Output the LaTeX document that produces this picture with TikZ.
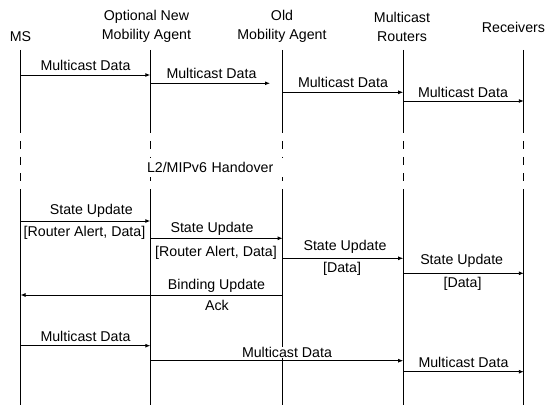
\documentclass[tikz,border=0pt]{standalone}
\usepackage{fontspec}
\setmainfont{Liberation Sans}
\usetikzlibrary{arrows.meta}
\begin{document}
\begin{tikzpicture}[x=1pt,y=-1pt,
  life/.style={line width=1.1pt},
  gapdash/.style={line width=1.1pt,dash pattern=on 8pt off 8pt,dash phase=8pt},
  msg/.style={line width=0.9pt,-{Latex[length=5pt,width=4pt]}},
  lbl/.style={font=\fontsize{14.2}{19}\selectfont,inner sep=0pt},
  hdr/.style={font=\fontsize{14.2}{19}\selectfont,inner sep=0pt,align=center},
  cover/.style={fill=white,inner sep=0pt}]
\useasboundingbox (0,0) rectangle (548,406);
% headers
\node[hdr] (hms)  at (20.5,36.5) {MS};
\node[hdr] (hnma) at (146.5,26.5) {Optional New\\Mobility Agent};
\node[hdr] (homa) at (282,26.5) {Old\\Mobility Agent};
\node[hdr] (hmr)  at (402,26.5) {Multicast\\Routers};
\node[hdr] (hrcv) at (513.5,27) {Receivers};
% lifeline coordinates
\coordinate (msT) at (20.5,50);   \coordinate (msA) at (20.5,133);
\coordinate (msB) at (20.5,189);  \coordinate (msE) at (20.5,405);
\coordinate (nmaT) at (150.3,50); \coordinate (nmaA) at (150.3,133);
\coordinate (nmaB) at (150.3,189);\coordinate (nmaE) at (150.3,405);
\coordinate (omaT) at (282.7,50); \coordinate (omaA) at (282.7,133);
\coordinate (omaB) at (282.7,189);\coordinate (omaE) at (282.7,405);
\coordinate (mrT) at (403.2,50);  \coordinate (mrA) at (403.2,133);
\coordinate (mrB) at (403.2,189); \coordinate (mrE) at (403.2,405);
\coordinate (rcvT) at (523.8,50); \coordinate (rcvA) at (523.8,133);
\coordinate (rcvB) at (523.8,189);\coordinate (rcvE) at (523.8,405);
\foreach \n in {ms,nma,oma,mr,rcv}{
  \draw[life] (\n T) -- (\n A);
  \draw[gapdash] (\n A) -- (\n B);
  \draw[life] (\n B) -- (\n E);
}
% handover label
\node[lbl,fill=white,text width=135pt,align=left,inner xsep=2pt,inner ysep=1pt,minimum height=18pt] (ho) at (214.5,167.5) {L2/MIPv6 Handover};
% rows
\coordinate (y1) at (0,75);
\coordinate (y2) at (0,83.3);
\coordinate (y3) at (0,92.3);
\coordinate (y4) at (0,101);
\coordinate (y5) at (0,221);
\coordinate (y6) at (0,238.3);
\coordinate (y7) at (0,258.3);
\coordinate (y8) at (0,273.3);
\coordinate (y9) at (0,295);
\coordinate (y10) at (0,345.7);
\coordinate (y11) at (0,360.7);
\coordinate (y12) at (0,371.7);
\coordinate (a2e) at (270,83.3);
% first phase
\draw[msg] (msT |- y1) -- (nmaT |- y1);
\node[lbl] (l1) at (85.5,65) {Multicast Data};
\draw[msg] (nmaT |- y2) -- (a2e);
\node[lbl] (l2) at (211.5,73) {Multicast Data};
\draw[msg] (omaT |- y3) -- (mrT |- y3);
\node[lbl] (l3) at (343,82.3) {Multicast Data};
\draw[msg] (mrT |- y4) -- (rcvT |- y4);
\node[lbl] (l4) at (463,92.3) {Multicast Data};
% state update phase
\draw[msg] (msT |- y5) -- (nmaT |- y5);
\node[lbl] (s1) at (91.3,211) {State Update};
\node[lbl] (r1) at (84.5,233) {[Router Alert, Data]};
\draw[msg] (nmaT |- y6) -- (omaT |- y6);
\node[lbl] (s2) at (212,229.3) {State Update};
\node[lbl] (r2) at (216,253.3) {[Router Alert, Data]};
\draw[msg] (omaT |- y7) -- (mrT |- y7);
\node[lbl] (s3) at (345,247.3) {State Update};
\node[lbl] (d3) at (342,269) {[Data]};
\draw[msg] (mrT |- y8) -- (rcvT |- y8);
\node[lbl] (s4) at (461.7,261) {State Update};
\node[lbl] (d4) at (462.5,284.3) {[Data]};
\draw[msg] (omaT |- y9) -- (msT |- y9);
\node[lbl] (bu) at (216.5,285.7) {Binding Update};
\node[lbl] (ack) at (217,305) {Ack};
% final phase
\draw[msg] (msT |- y10) -- (nmaT |- y10);
\node[lbl] (m1) at (85.5,336.7) {Multicast Data};
\draw[msg] (nmaT |- y11) -- (mrT |- y11);
\node[lbl,cover,inner ysep=0.5pt] (m2) at (287,352.4) {Multicast Data};
\draw[msg] (mrT |- y12) -- (rcvT |- y12);
\node[lbl] (m3) at (463.5,362.3) {Multicast Data};
\end{tikzpicture}
\end{document}
